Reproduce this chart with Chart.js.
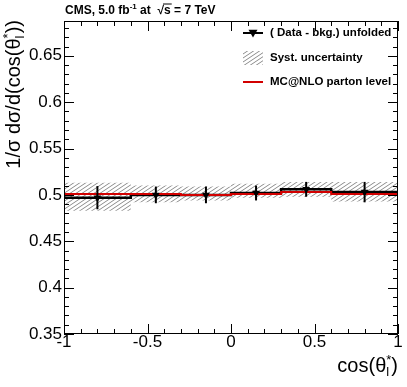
<!DOCTYPE html>
<html>
<head>
<meta charset="utf-8">
<script src="https://cdn.jsdelivr.net/npm/chart.js@4.4.1/dist/chart.umd.min.js"></script>
<style>
html, body { margin: 0; padding: 0; background: #ffffff; }
#wrap { width: 407px; height: 387px; }
</style>
</head>
<body>
<div id="wrap"><canvas id="chart" width="407" height="387"></canvas></div>
<script>
// === Data ===
const BIN_EDGES = [-1, -0.6, -0.3, 0, 0.3, 0.6, 1];
const BIN_CENTERS = [-0.8, -0.45, -0.15, 0.15, 0.45, 0.8];
const DATA_VALUES = [0.497, 0.500, 0.500, 0.502, 0.506, 0.503];
const DATA_STAT_ERR = [0.0125, 0.009, 0.009, 0.008, 0.008, 0.011];
const SYST_LOW = [0.483, 0.492, 0.494, 0.497, 0.498, 0.493];
const SYST_HIGH = [0.513, 0.510, 0.509, 0.512, 0.514, 0.514];
const MC_VALUES = [0.501, 0.501, 0.500, 0.501, 0.503, 0.501];

// === Axes ===
const X_MIN = -1, X_MAX = 1;
const Y_MIN = 0.35, Y_MAX = 0.6875;
const X_TICKS = [-1, -0.5, 0, 0.5, 1];
const Y_TICKS = [0.35, 0.4, 0.45, 0.5, 0.55, 0.6, 0.65];
const X_MINOR_STEP = 0.1;
const Y_MINOR_STEP = 0.01;

const FONT = '"Liberation Sans", Arial, Helvetica, sans-serif';
const MC_RED = '#d20000';

// === Helpers ===
function stepPoints(values) {
    const pts = values.map((v, i) => ({ x: BIN_EDGES[i], y: v }));
    pts.push({ x: BIN_EDGES[BIN_EDGES.length - 1], y: values[values.length - 1] });
    return pts;
}

function minorTicks(min, max, step) {
    const out = [];
    const n = Math.round((max - min) / step);
    for (let i = 0; i <= n; i++) out.push(+(min + i * step).toFixed(4));
    return out;
}

function makeHatch() {
    const c = document.createElement('canvas');
    c.width = 6;
    c.height = 4;
    const g = c.getContext('2d');
    g.strokeStyle = '#8c8c8c';
    g.lineWidth = 1;
    g.beginPath();
    g.moveTo(0, 4); g.lineTo(6, 0);
    g.moveTo(-3, 2); g.lineTo(3, -2);
    g.moveTo(3, 6); g.lineTo(9, 2);
    g.stroke();
    return document.getElementById('chart').getContext('2d').createPattern(c, 'repeat');
}

// draw text with super/subscripts; parts stacked with {stack:true} start where the previous one did
function drawRich(ctx, parts, x, y, measureOnly) {
    let cx = x, lastStart = x, lastW = 0;
    parts.forEach(p => {
        ctx.font = p.font;
        const w = ctx.measureText(p.text).width;
        let sx = cx;
        if (p.stack) {
            sx = lastStart;
            cx = lastStart + Math.max(lastW, w);
        } else {
            cx = sx + w;
        }
        if (!measureOnly) {
            ctx.fillText(p.text, sx, y + (p.dy || 0));
            if (p.over) {
                ctx.save();
                ctx.lineWidth = 1;
                ctx.beginPath();
                ctx.moveTo(sx - 1, y + p.over);
                ctx.lineTo(sx + w + 1, y + p.over);
                ctx.stroke();
                ctx.restore();
            }
        }
        lastStart = sx;
        lastW = w;
    });
    return cx - x;
}

function downTriangle(ctx, x, y, r) {
    ctx.beginPath();
    ctx.moveTo(x - r, y - r * 0.7);
    ctx.lineTo(x + r, y - r * 0.7);
    ctx.lineTo(x, y + r * 1.0);
    ctx.closePath();
    ctx.fill();
}

const hatch = makeHatch();

// === Plugin: ROOT style frame, ticks, error bars, texts, legend ===
const rootStylePlugin = {
    id: 'rootStyle',
    afterDatasetsDraw(chart) {
        const ctx = chart.ctx;
        const xs = chart.scales.x;
        const ys = chart.scales.y;

        // stat error bars
        ctx.save();
        ctx.strokeStyle = '#000000';
        ctx.lineWidth = 2;
        BIN_CENTERS.forEach((c, i) => {
            const px = xs.getPixelForValue(c);
            ctx.beginPath();
            ctx.moveTo(px, ys.getPixelForValue(DATA_VALUES[i] - DATA_STAT_ERR[i]));
            ctx.lineTo(px, ys.getPixelForValue(DATA_VALUES[i] + DATA_STAT_ERR[i]));
            ctx.stroke();
        });
        ctx.restore();
    },
    afterDraw(chart) {
        const ctx = chart.ctx;
        const a = chart.chartArea;
        const xs = chart.scales.x;
        const ys = chart.scales.y;

        ctx.save();
        ctx.strokeStyle = '#000000';
        ctx.lineWidth = 1;
        ctx.strokeRect(a.left + 0.5, a.top + 0.5, a.right - a.left - 1, a.bottom - a.top - 1);

        // inward ticks on all four sides
        ctx.beginPath();
        minorTicks(X_MIN, X_MAX, X_MINOR_STEP).forEach(v => {
            const major = X_TICKS.some(t => Math.abs(t - v) < 1e-6);
            const len = major ? 10 : 5;
            const px = Math.round(xs.getPixelForValue(v)) + 0.5;
            ctx.moveTo(px, a.bottom); ctx.lineTo(px, a.bottom - len);
            ctx.moveTo(px, a.top); ctx.lineTo(px, a.top + len);
        });
        minorTicks(Y_MIN, 0.68, Y_MINOR_STEP).forEach(v => {
            const major = Y_TICKS.some(t => Math.abs(t - v) < 1e-6);
            const len = major ? 10 : 5;
            const py = Math.round(ys.getPixelForValue(v)) + 0.5;
            ctx.moveTo(a.left, py); ctx.lineTo(a.left + len, py);
            ctx.moveTo(a.right, py); ctx.lineTo(a.right - len, py);
        });
        ctx.stroke();

        ctx.fillStyle = '#000000';
        ctx.strokeStyle = '#000000';
        ctx.textBaseline = 'alphabetic';
        ctx.textAlign = 'left';

        // header
        const hb = 'bold 12px ' + FONT;
        const hs = 'bold 8px ' + FONT;
        drawRich(ctx, [
            { text: 'CMS, 5.0 fb', font: hb },
            { text: '-1', font: hs, dy: -5 },
            { text: ' at  ', font: hb },
            { text: '\u221A', font: hb },
            { text: 's', font: hb, over: -10 },
            { text: ' = 7 TeV', font: hb }
        ], 65, 14);

        // x-axis title (right aligned)
        const tf = '20px ' + FONT;
        const ts = '13px ' + FONT;
        const xParts = [
            { text: 'cos(\u03B8', font: tf },
            { text: '*', font: ts, dy: -8 },
            { text: 'l', font: ts, dy: 4, stack: true },
            { text: ')', font: tf }
        ];
        const xw = drawRich(ctx, xParts, 0, 0, true);
        drawRich(ctx, xParts, a.right - xw, 372);

        // y-axis title (rotated, end aligned with top)
        const yParts = [
            { text: '1/\u03C3 d\u03C3/d(cos(\u03B8', font: tf },
            { text: '*', font: ts, dy: -8 },
            { text: 'l', font: ts, dy: 4, stack: true },
            { text: '))', font: tf }
        ];
        const yw = drawRich(ctx, yParts, 0, 0, true);
        ctx.save();
        ctx.translate(20, a.top - 1 + yw);
        ctx.rotate(-Math.PI / 2);
        drawRich(ctx, yParts, 0, 0);
        ctx.restore();

        // legend
        const lx0 = 243, lx1 = 263, tx = 270;
        const rows = [33, 58, 82];
        ctx.lineWidth = 2;
        ctx.beginPath();
        ctx.moveTo(lx0, rows[0]); ctx.lineTo(lx1, rows[0]);
        ctx.stroke();
        downTriangle(ctx, (lx0 + lx1) / 2, rows[0], 4.5);

        ctx.fillStyle = hatch;
        ctx.fillRect(lx0, rows[1] - 7, lx1 - lx0, 14);

        ctx.strokeStyle = MC_RED;
        ctx.beginPath();
        ctx.moveTo(lx0, rows[2]); ctx.lineTo(lx1, rows[2]);
        ctx.stroke();

        ctx.fillStyle = '#000000';
        ctx.font = 'bold 11.5px ' + FONT;
        ctx.textBaseline = 'middle';
        ctx.fillText('( Data - bkg.) unfolded', tx, rows[0]);
        ctx.fillText('Syst. uncertainty', tx, rows[1]);
        ctx.fillText('MC@NLO parton level', tx, rows[2]);
        ctx.restore();
    }
};

// === Chart ===
const ctx = document.getElementById('chart').getContext('2d');

const chart = new Chart(ctx, {
    type: 'line',
    data: {
        datasets: [
            {
                label: 'Syst. uncertainty (up)',
                data: stepPoints(SYST_HIGH),
                stepped: 'before',
                borderWidth: 0,
                borderColor: 'transparent',
                pointRadius: 0,
                backgroundColor: hatch,
                fill: '+1',
                order: 10
            },
            {
                label: 'Syst. uncertainty (down)',
                data: stepPoints(SYST_LOW),
                stepped: 'before',
                borderWidth: 0,
                borderColor: 'transparent',
                pointRadius: 0,
                fill: false,
                order: 11
            },
            {
                label: '(Data - bkg.) unfolded',
                data: stepPoints(DATA_VALUES),
                stepped: 'before',
                borderColor: '#000000',
                borderWidth: 2.5,
                pointRadius: 0,
                fill: false,
                order: 5
            },
            {
                label: 'MC@NLO parton level',
                data: stepPoints(MC_VALUES),
                stepped: 'before',
                borderColor: MC_RED,
                borderWidth: 2,
                pointRadius: 0,
                fill: false,
                order: 4
            },
            {
                label: 'Data points',
                data: BIN_CENTERS.map((c, i) => ({ x: c, y: DATA_VALUES[i] })),
                showLine: false,
                pointStyle: 'triangle',
                rotation: 180,
                pointRadius: 4.5,
                pointBackgroundColor: '#000000',
                pointBorderColor: '#000000',
                pointBorderWidth: 0,
                order: 1
            }
        ]
    },
    options: {
        responsive: false,
        animation: false,
        events: [],
        layout: { padding: { top: 21, right: 9, left: 0, bottom: 0 } },
        scales: {
            x: {
                type: 'linear',
                min: X_MIN,
                max: X_MAX,
                afterBuildTicks: s => { s.ticks = X_TICKS.map(v => ({ value: v })); },
                afterFit: s => { s.height = 53; },
                grid: { display: false, drawTicks: false },
                border: { display: false },
                ticks: {
                    color: '#000000',
                    padding: -2,
                    maxRotation: 0,
                    font: { family: FONT, size: 17 },
                    callback: v => String(v)
                }
            },
            y: {
                type: 'linear',
                min: Y_MIN,
                max: Y_MAX,
                afterBuildTicks: s => { s.ticks = Y_TICKS.map(v => ({ value: v })); },
                afterFit: s => { s.width = 64; },
                grid: { display: false, drawTicks: false },
                border: { display: false },
                ticks: {
                    color: '#000000',
                    padding: 2,
                    font: { family: FONT, size: 17 },
                    callback: v => String(v)
                }
            }
        },
        plugins: {
            legend: { display: false },
            tooltip: { enabled: false },
            title: { display: false }
        }
    },
    plugins: [rootStylePlugin]
});
</script>
</body>
</html>
